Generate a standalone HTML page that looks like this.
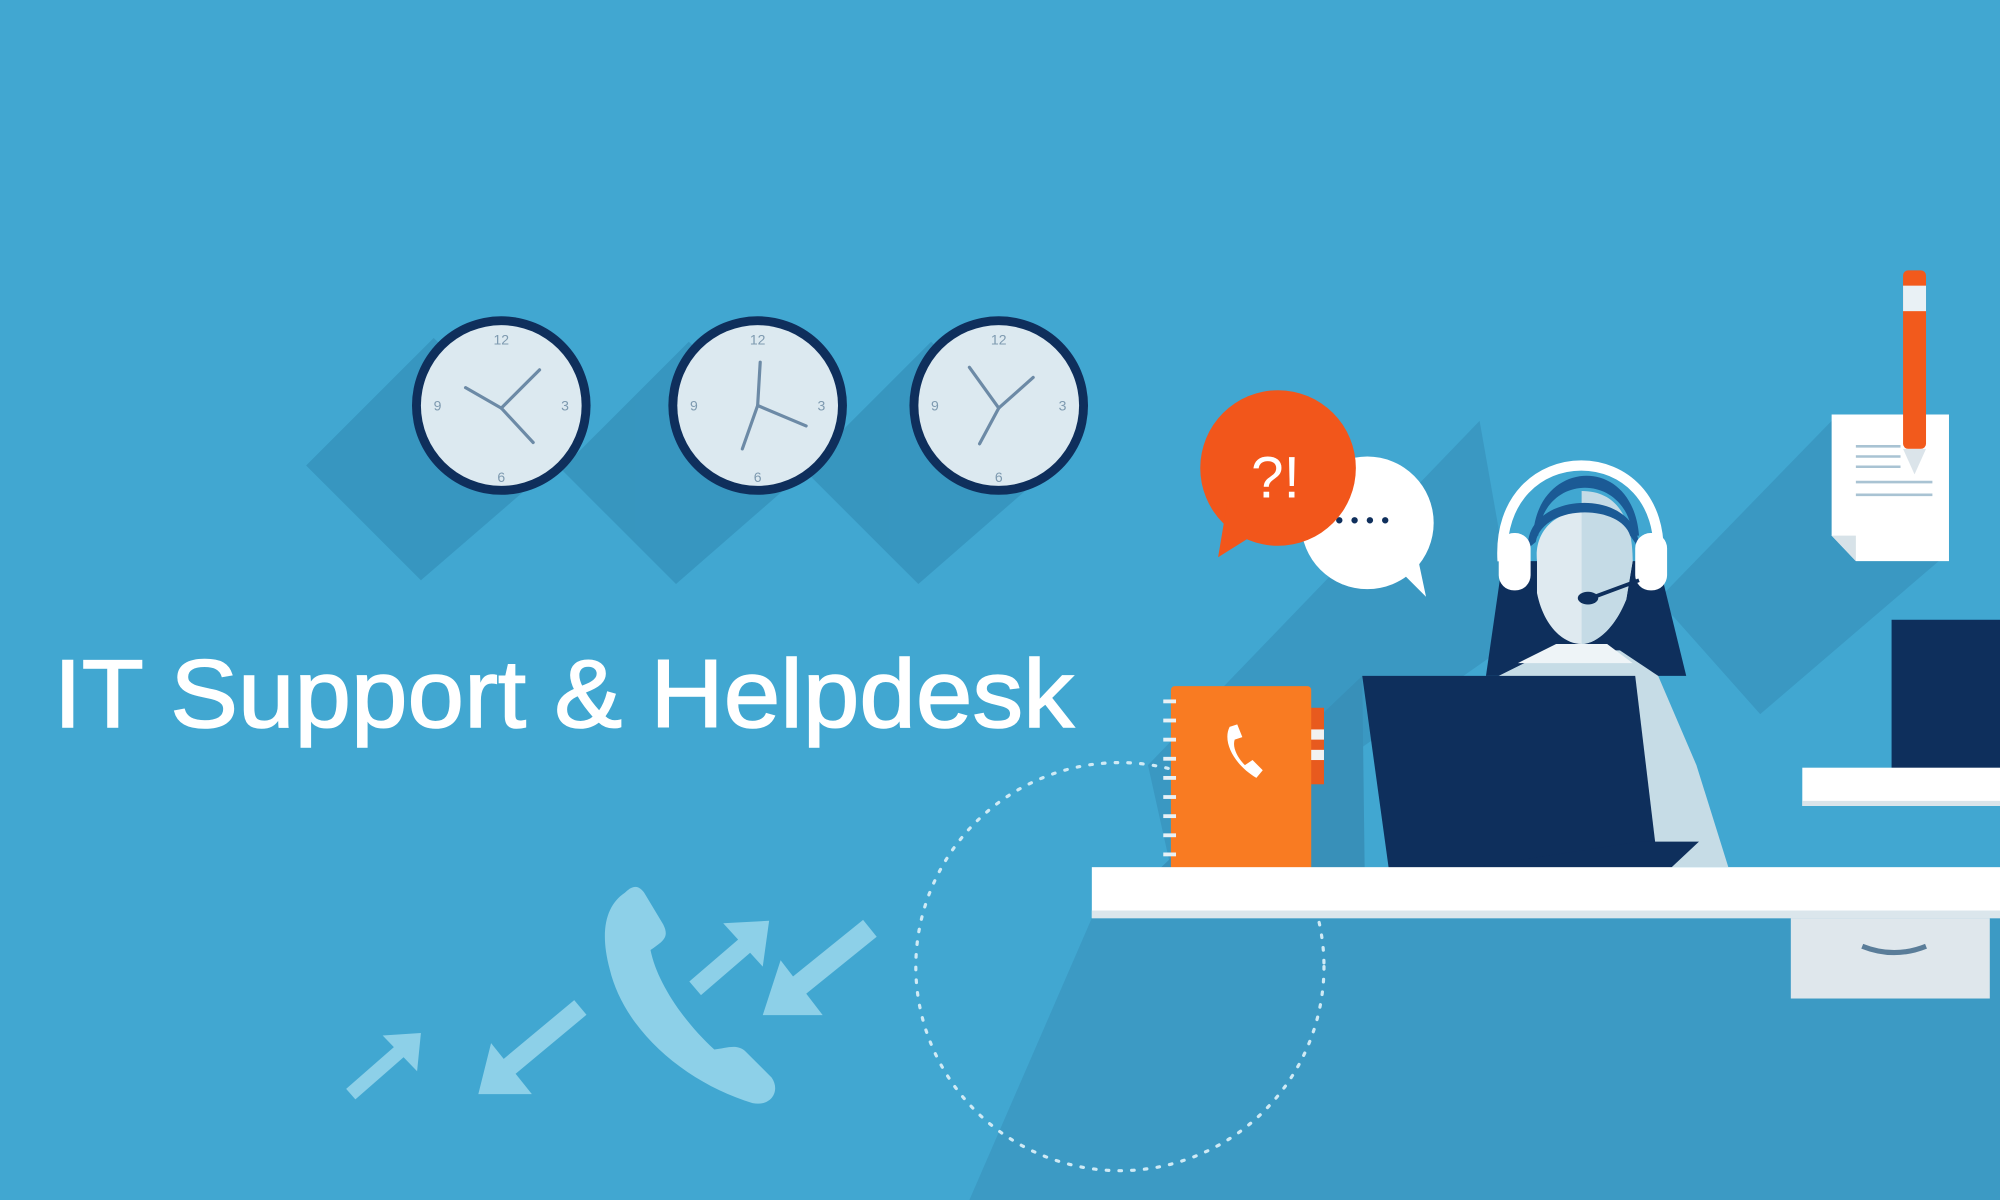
<!DOCTYPE html>
<html><head><meta charset="utf-8"><style>
html,body{margin:0;padding:0;background:#41a7d1;}
svg{display:block;}
</style></head><body>
<svg width="2000" height="1200" viewBox="0 0 1568 941" xmlns="http://www.w3.org/2000/svg" preserveAspectRatio="none">
<rect width="1568" height="941" fill="#41a7d1"/>
<!-- clock shadows -->
<g fill="#3592bb" opacity="0.8">
<polygon points="340,265 240,365 330,455 440,360"/>
<polygon points="540,268 440,368 530,458 640,362"/>
<polygon points="730,268 630,368 720,458 830,362"/>
</g>
<!-- desk shadow -->
<polygon points="856,720 1568,720 1568,941 760,941" fill="#3c9ac4"/>
<polygon points="1160,330 900,600 920,690 1190,500" fill="#3a98c2"/>
<polygon points="1436,330 1300,470 1380,560 1520,440" fill="#3a98c2"/>
<polygon points="1068,530 900,690 1070,690" fill="#3890b9"/>
<!-- clocks -->
<g>
<circle cx="393" cy="318" r="70" fill="#0f2f5c"/><circle cx="393" cy="318" r="63" fill="#dce9f0"/>
<circle cx="594" cy="318" r="70" fill="#0f2f5c"/><circle cx="594" cy="318" r="63" fill="#dce9f0"/>
<circle cx="783" cy="318" r="70" fill="#0f2f5c"/><circle cx="783" cy="318" r="63" fill="#dce9f0"/>
</g>
<g font-family="Liberation Sans,sans-serif" font-size="11" fill="#7e9ab0" text-anchor="middle">
<text x="393" y="270">12</text><text x="393" y="378">6</text><text x="343" y="322">9</text><text x="443" y="322">3</text>
<text x="594" y="270">12</text><text x="594" y="378">6</text><text x="544" y="322">9</text><text x="644" y="322">3</text>
<text x="783" y="270">12</text><text x="783" y="378">6</text><text x="733" y="322">9</text><text x="833" y="322">3</text>
</g>
<g stroke="#6c8aa6" stroke-width="2.5" stroke-linecap="round">
<line x1="393" y1="320" x2="365" y2="304"/><line x1="393" y1="320" x2="423" y2="290"/><line x1="393" y1="320" x2="418" y2="347"/>
<line x1="594" y1="318" x2="596" y2="284"/><line x1="594" y1="318" x2="632" y2="334"/><line x1="594" y1="318" x2="582" y2="352"/>
<line x1="783" y1="320" x2="760" y2="288"/><line x1="783" y1="320" x2="810" y2="296"/><line x1="783" y1="320" x2="768" y2="348"/>
</g>
<!-- title -->
<text x="42" y="570" font-family="Liberation Sans,sans-serif" font-size="76" fill="#ffffff" stroke="#ffffff" stroke-width="1.2" textLength="800" lengthAdjust="spacingAndGlyphs">IT Support &amp; Helpdesk</text>
<!-- dotted circle -->
<circle cx="878" cy="758" r="160" fill="none" stroke="#cfeaf5" stroke-width="2.5" stroke-dasharray="2 8" stroke-linecap="round"/>
<!-- arrows & phone -->
<g fill="#8dd0e8" stroke="none">
<line x1="275" y1="858" x2="315" y2="823" stroke="#8dd0e8" stroke-width="11"/>
<polygon points="330,810 300,812 327,840"/>
<line x1="455" y1="790" x2="395" y2="840" stroke="#8dd0e8" stroke-width="15"/>
<polygon points="375,858 417,858 385,818"/>
<line x1="545" y1="775" x2="588" y2="738" stroke="#8dd0e8" stroke-width="14"/>
<polygon points="603,722 567,724 598,758"/>
<line x1="682" y1="728" x2="620" y2="778" stroke="#8dd0e8" stroke-width="17"/>
<polygon points="598,796 645,796 612,753"/>
<path d="M490,700 C475,710 470,730 478,760 C490,810 540,850 590,865 C605,868 612,855 605,845 L585,825 C578,818 570,822 560,823 C535,800 515,770 510,745 C520,738 525,735 520,725 L505,700 C500,693 495,695 490,700Z"/>
</g>
<!-- right shelf & monitor -->
<rect x="1483" y="486" width="90" height="122" fill="#0e2f5c"/>
<rect x="1413" y="602" width="160" height="30" fill="#ffffff"/>
<rect x="1413" y="628" width="160" height="4" fill="#d9e4ea"/>
<!-- paper & pencil -->
<polygon points="1436,325 1528,325 1528,440 1455,440 1436,420" fill="#ffffff"/>
<polygon points="1436,420 1455,420 1455,440" fill="#d7e2e8"/>
<g stroke="#a9c3d3" stroke-width="2"><line x1="1455" y1="350" x2="1490" y2="350"/><line x1="1455" y1="358" x2="1490" y2="358"/><line x1="1455" y1="366" x2="1490" y2="366"/><line x1="1455" y1="378" x2="1515" y2="378"/><line x1="1455" y1="388" x2="1515" y2="388"/></g>
<rect x="1492" y="212" width="18" height="140" rx="4" fill="#f25a1c"/>
<rect x="1492" y="224" width="18" height="20" fill="#e9f1f5"/>
<polygon points="1492,352 1510,352 1501,372" fill="#dbe4ea"/>
<!-- bubbles -->
<circle cx="1072" cy="410" r="52" fill="#ffffff"/>
<polygon points="1095,445 1118,468 1110,430" fill="#ffffff"/>
<g fill="#0f2f5c"><circle cx="1050" cy="408" r="2.5"/><circle cx="1062" cy="408" r="2.5"/><circle cx="1074" cy="408" r="2.5"/><circle cx="1086" cy="408" r="2.5"/></g>
<circle cx="1002" cy="367" r="61" fill="#f2561b"/>
<polygon points="962,395 955,437 990,415" fill="#f2561b"/>
<text x="1000" y="390" font-family="Liberation Sans,sans-serif" font-size="46" fill="#ffffff" text-anchor="middle">?!</text>
<!-- person -->
<path d="M1165,530 L1178,440 L1300,440 L1322,530Z" fill="#0e2f5c"/>
<path d="M1175,530 L1215,510 L1270,510 L1300,530 L1330,600 L1355,680 L1260,680 L1175,530Z" fill="#c6dce6"/>
<path d="M1190,520 L1220,505 L1260,505 L1280,520Z" fill="#eef4f7"/>
<path d="M1205,440 C1200,390 1280,385 1280,440 L1275,470 C1265,495 1250,505 1240,505 C1225,505 1210,490 1205,465Z" fill="#dfeaf0"/>
<path d="M1240,385 C1270,385 1280,410 1280,440 L1275,470 C1265,495 1250,505 1240,505Z" fill="#c5dbe6"/>
<path d="M1198,430 C1195,385 1285,380 1285,430 L1278,420 C1270,395 1210,395 1204,425Z" fill="#1b5a95"/>
<path d="M1202,420 C1205,360 1280,355 1285,420 L1280,420 C1275,370 1210,370 1206,420Z" fill="#1b5a95"/>
<path d="M1178,440 C1172,340 1308,340 1300,440" fill="none" stroke="#ffffff" stroke-width="8"/>
<rect x="1175" y="418" width="25" height="45" rx="12" fill="#ffffff"/>
<rect x="1282" y="418" width="25" height="45" rx="12" fill="#ffffff"/>
<path d="M1285,455 L1250,468" stroke="#0e2f5c" stroke-width="3"/>
<ellipse cx="1245" cy="469" rx="8" ry="5" fill="#0e2f5c"/>
<!-- laptop -->
<polygon points="1068,530 1282,530 1300,680 1090,690" fill="#0e2f5c"/>
<polygon points="1285,660 1332,660 1300,690 1090,690" fill="#0e2f5c"/>
<!-- notebook -->
<rect x="1026" y="555" width="12" height="60" fill="#e85a1e"/>
<rect x="1026" y="572" width="12" height="8" fill="#f2f2f2"/><rect x="1026" y="588" width="12" height="8" fill="#f2f2f2"/>
<rect x="918" y="538" width="110" height="150" rx="3" fill="#f97b22"/>
<g stroke="#e8f1f6" stroke-width="3">
<line x1="912" y1="550" x2="922" y2="550"/><line x1="912" y1="565" x2="922" y2="565"/><line x1="912" y1="580" x2="922" y2="580"/><line x1="912" y1="595" x2="922" y2="595"/><line x1="912" y1="610" x2="922" y2="610"/><line x1="912" y1="625" x2="922" y2="625"/><line x1="912" y1="640" x2="922" y2="640"/><line x1="912" y1="655" x2="922" y2="655"/><line x1="912" y1="670" x2="922" y2="670"/>
</g>
<path d="M964,570 C958,582 968,600 985,610 L990,604 L982,596 L976,600 C970,594 966,586 968,580 L974,578 L970,568Z" fill="#ffffff"/>
<!-- desk -->
<rect x="856" y="680" width="712" height="40" fill="#ffffff"/>
<rect x="856" y="714" width="712" height="6" fill="#dbe6ec"/>
<rect x="1404" y="720" width="156" height="63" fill="#dfe7ec"/>
<path d="M1460,742 Q1485,752 1510,742" stroke="#5a7d99" stroke-width="4" fill="none"/>
</svg>
</body></html>
